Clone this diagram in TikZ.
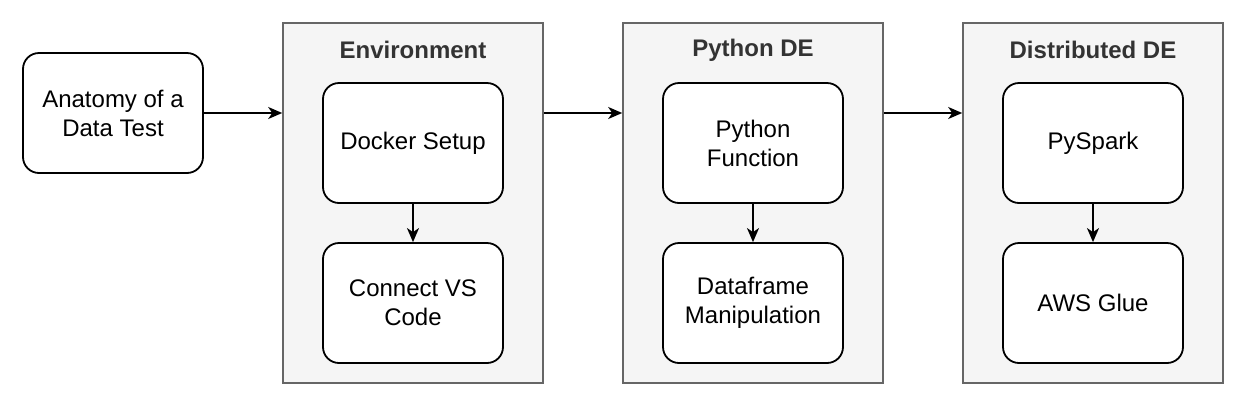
\documentclass[tikz,border=0pt]{standalone}
\usepackage{fontspec}
\setmainfont{Liberation Sans}
\usepackage{tikz}
\usetikzlibrary{arrows.meta}
\definecolor{groupfill}{HTML}{F5F5F5}
\definecolor{groupline}{HTML}{666666}
\definecolor{grouptext}{HTML}{333333}

\begin{document}
\begin{tikzpicture}[x=0.5pt,y=-0.5pt,
    font=\fontsize{12}{14.5}\selectfont,
    stepbox/.style={draw=black,line width=0.9pt,fill=white,rounded corners=8pt,
      minimum width=90pt,minimum height=60pt,align=center,inner sep=0pt},
    groupbox/.style={draw=groupline,line width=0.8pt,fill=groupfill,
      minimum width=130pt,minimum height=180pt,inner sep=0pt},
    grouptitle/.style={text=grouptext,font=\fontsize{12}{14.5}\selectfont\bfseries},
    flow/.style={line width=0.8pt,-{Stealth[length=7pt,width=6pt,inset=2pt]}}]
\useasboundingbox (0,0) rectangle (1244,408);
  % start
  \node[stepbox] (anatomy) at (113,113) {Anatomy of a\\Data Test};
  % environment
  \node[groupbox] (env) at (413,203) {};
  \node[grouptitle] (envtitle) at (413,50) {Environment};
  \node[stepbox] (docker) at (413,143) {Docker Setup};
  \node[stepbox] (vscode) at (413,303) {Connect VS\\Code};
  % python
  \node[groupbox] (pyde) at (753,203) {};
  \node[grouptitle] (pytitle) at (753,50) {Python DE};
  \node[stepbox] (pyfunc) at (753,143) {Python\\Function};
  \node[stepbox] (dfmanip) at (753,303) {Dataframe\\Manipulation};
  % distributed
  \node[groupbox] (distde) at (1093,203) {};
  \node[grouptitle] (disttitle) at (1093,50) {Distributed DE};
  \node[stepbox] (pyspark) at (1093,143) {PySpark};
  \node[stepbox] (glue) at (1093,303) {AWS Glue};
  % arrows
  \draw[flow] (anatomy.east) -- (anatomy.east -| env.west);
  \draw[flow] (env.east |- anatomy) -- (pyde.west |- anatomy);
  \draw[flow] (pyde.east |- anatomy) -- (distde.west |- anatomy);
  \draw[flow] (docker) -- (vscode);
  \draw[flow] (pyfunc) -- (dfmanip);
  \draw[flow] (pyspark) -- (glue);
\end{tikzpicture}
\end{document}
